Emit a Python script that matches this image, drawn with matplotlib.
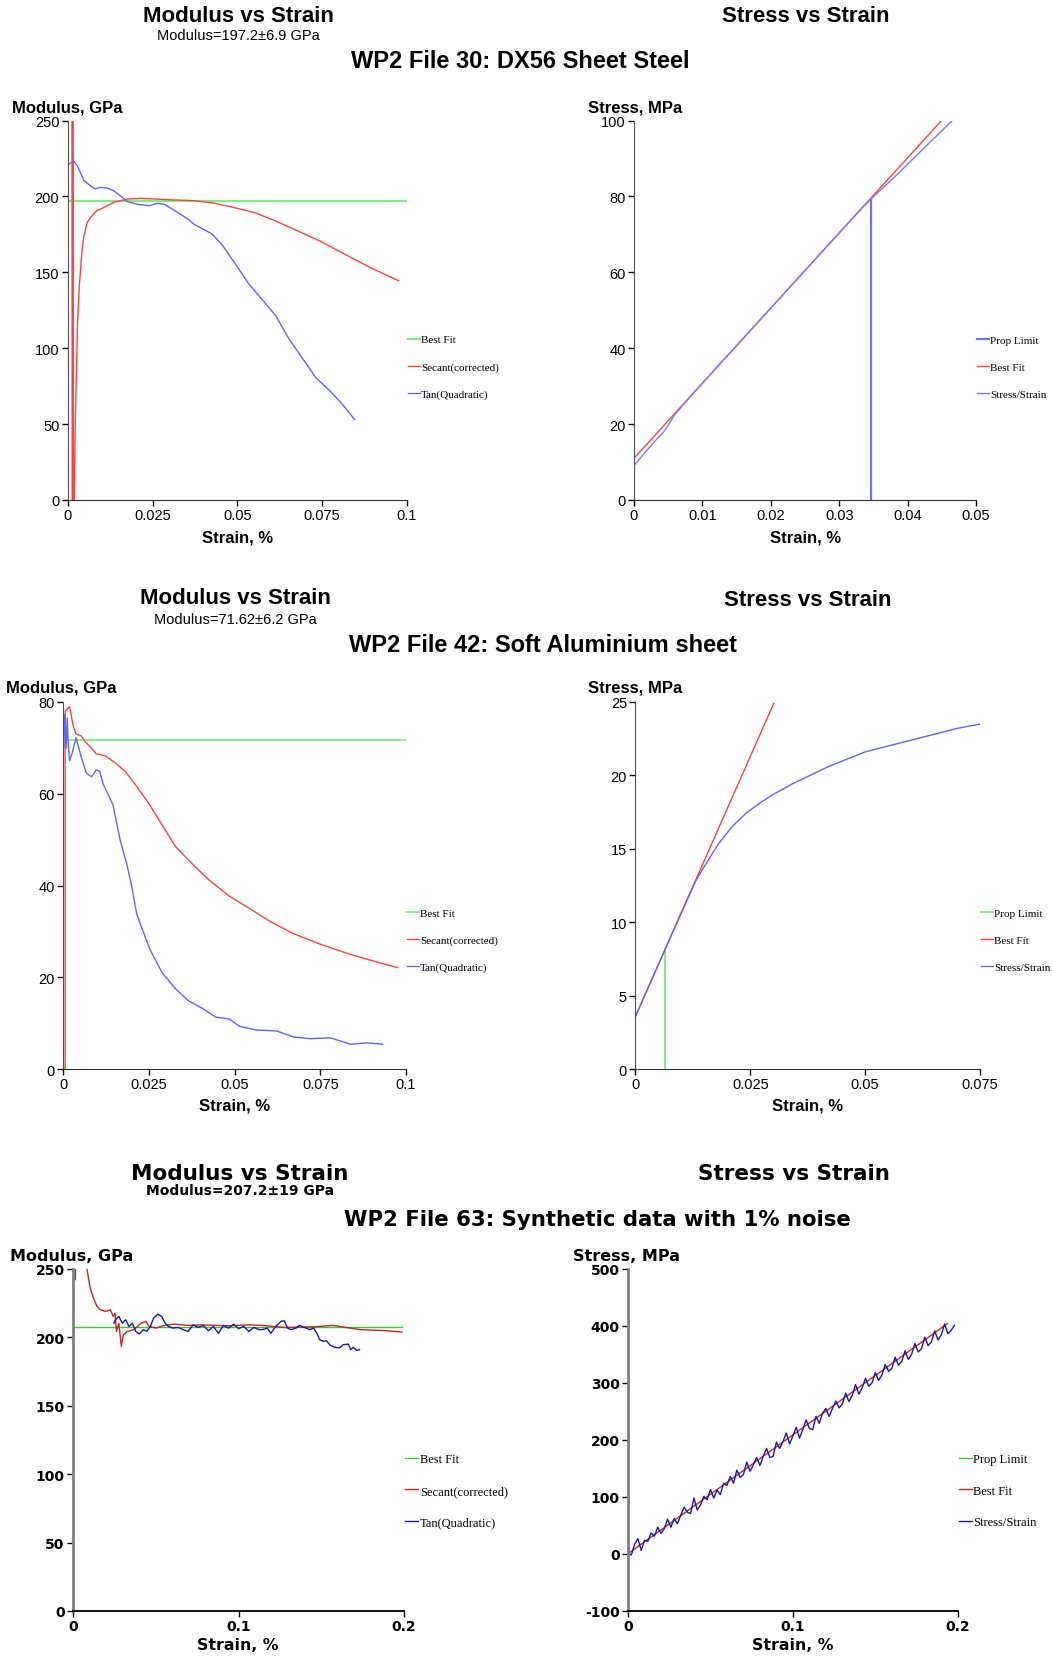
import matplotlib
matplotlib.use("Agg")
import matplotlib.pyplot as plt

W, H = 1053, 1658

# ---- File 30: DX56 sheet steel ----
MOD30_BEST = 197.2
SEC30_X = [0.0014, 0.0015, 0.0019, 0.0022, 0.0029, 0.0034, 0.0042, 0.0047, 0.0057, 0.0067,
           0.0086, 0.0106, 0.0136, 0.0176, 0.0216, 0.0295, 0.0374, 0.0434, 0.0494, 0.0553,
           0.0613, 0.0672, 0.0742, 0.0811, 0.0891, 0.0975]
SEC30_Y = [400, 0, 0, 46.3, 116.8, 140.3, 163.8, 173.2, 182.6, 186.1,
           190.8, 192.7, 196.2, 198.3, 198.8, 197.9, 197.2, 195.5, 192.5, 189.2,
           183.8, 177.9, 170.8, 162.6, 153.2, 144.5]
TAN30_X = [0.0, 0.0007, 0.0019, 0.0029, 0.0047, 0.0067, 0.0081, 0.0096, 0.0116, 0.0136,
           0.0156, 0.0176, 0.0206, 0.024, 0.0265, 0.0285, 0.0315, 0.0355, 0.0374, 0.0404,
           0.0424, 0.0454, 0.0494, 0.0533, 0.0573, 0.0613, 0.0652, 0.0692, 0.0732, 0.0772,
           0.0811, 0.0846]
TAN30_Y = [220.2, 222, 223, 220, 210.8, 207, 205, 206, 205.6, 203.7,
           200.2, 196.7, 194.8, 193.9, 195.5, 194.8, 190.8, 185, 181.4, 177.9,
           175.5, 168.5, 155.6, 142.6, 132.1, 121.5, 106.2, 93.3, 80.4, 72.1,
           62.7, 52.9]
SS30_X = [0.0, 0.0015, 0.003, 0.0045, 0.006, 0.0089, 0.0138, 0.0187, 0.0236, 0.0285,
          0.0334, 0.0348, 0.0383, 0.0431, 0.0467]
SS30_Y = [9.1, 12.3, 15.4, 18.3, 22.6, 28.6, 38.3, 48.0, 57.7, 67.4,
          77.1, 79.6, 85.5, 94.0, 100.3]
FIT30_X = [0.0, 0.0451]
FIT30_Y = [11.0, 100.3]
PROP30_X = [0.0346, 0.0346]
PROP30_Y = [0.0, 79.0]

# ---- File 42: soft aluminium sheet ----
MOD42_BEST = 71.62
SEC42_X = [0.0005, 0.0005, 0.0018, 0.0028, 0.0037, 0.0052, 0.0062, 0.0077, 0.0096, 0.0121,
           0.015, 0.018, 0.0209, 0.0249, 0.0288, 0.0327, 0.0376, 0.0425, 0.0484, 0.0543,
           0.0602, 0.0671, 0.075, 0.0828, 0.0897, 0.0975]
SEC42_Y = [0, 78, 79, 75, 73, 72.6, 71.5, 70.3, 68.7, 68.3,
           66.8, 64.9, 62.1, 57.9, 53.2, 48.5, 44.7, 41.2, 37.7, 35,
           32.2, 29.5, 27.2, 25.2, 23.7, 22.1]
TAN42_X = [0.0001, 0.0004, 0.0008, 0.0011, 0.0014, 0.0018, 0.0025, 0.0037, 0.0052, 0.0067,
           0.0082, 0.0096, 0.0106, 0.0116, 0.0131, 0.0145, 0.0165, 0.0185, 0.0199, 0.0214,
           0.0229, 0.0253, 0.0288, 0.0327, 0.0366, 0.0406, 0.0445, 0.0484, 0.0514, 0.0563,
           0.0622, 0.0671, 0.072, 0.0779, 0.0838, 0.0887, 0.0931]
TAN42_Y = [70.3, 77.3, 69.9, 76.5, 71, 67.2, 68.7, 72.2, 68, 64.5,
           63.7, 65.2, 64.9, 62.1, 59.8, 57.5, 50.1, 44.7, 40, 33.8,
           30.7, 26, 21, 17.5, 14.8, 13.2, 11.3, 10.9, 9.3, 8.5,
           8.3, 7, 6.6, 6.8, 5.4, 5.7, 5.4]
SS42_X = [0.0, 0.0029, 0.0064, 0.0095, 0.0131, 0.015, 0.018, 0.021, 0.024, 0.027,
          0.030, 0.034, 0.038, 0.042, 0.046, 0.050, 0.055, 0.060, 0.065, 0.070, 0.075]
SS42_Y = [3.57, 5.63, 8.1, 10.3, 12.8, 13.8, 15.3, 16.5, 17.4, 18.1,
          18.7, 19.4, 20.0, 20.6, 21.1, 21.6, 22.0, 22.4, 22.8, 23.2, 23.5]
FIT42_X = [0.0, 0.0301]
FIT42_Y = [3.57, 24.9]
PROP42_X = [0.0064, 0.0064]
PROP42_Y = [0.0, 8.0]

# ---- File 63: synthetic data, 1% noise ----
MOD63_BEST = 207.2
SEC63_X = [0.0014, 0.0016, 0.0030, 0.0084, 0.0104, 0.0124, 0.0145, 0.0165, 0.0196, 0.0226,
           0.0243, 0.0253, 0.0263, 0.0277, 0.0292, 0.0304, 0.0328, 0.0369, 0.041, 0.044,
           0.0461, 0.0502, 0.0552, 0.0613, 0.0695, 0.0777, 0.0858, 0.094, 0.1062, 0.1144,
           0.1284, 0.149, 0.1572, 0.1674, 0.1735, 0.1896, 0.1988]
SEC63_Y = [242, 255, 262, 250.2, 235.7, 228.4, 222.4, 220, 218.8, 220,
           215.1, 217.5, 204.2, 210.2, 193.3, 201.8, 204.2, 205.5, 210.2, 211.5,
           207.8, 206.6, 208.6, 209.5, 208.6, 209, 208.6, 208.3, 209, 208.6,
           207, 207.8, 208.6, 206.6, 205.5, 204.7, 203.7]
TAN63_X = [0.0247, 0.0257, 0.0277, 0.0298, 0.0318, 0.0338, 0.0359, 0.0379, 0.04, 0.0426,
           0.0446, 0.0467, 0.0487, 0.0512, 0.0536, 0.0557, 0.0577, 0.0604, 0.0634, 0.0665,
           0.0695, 0.0726, 0.0757, 0.0787, 0.0818, 0.0848, 0.0879, 0.0909, 0.094, 0.0971,
           0.1001, 0.1032, 0.1062, 0.1093, 0.1124, 0.1144, 0.1174, 0.1195, 0.1225, 0.1256,
           0.1276, 0.1297, 0.1317, 0.1347, 0.1368, 0.1399, 0.1429, 0.1454, 0.1474, 0.149,
           0.1511, 0.1531, 0.1555, 0.1582, 0.1609, 0.1633, 0.1664, 0.1678, 0.1694, 0.1714,
           0.1731]
TAN63_Y = [210.2, 212.7, 215.1, 210.2, 212.7, 207.8, 210.2, 204.2, 202.3, 205.5,
           204.2, 207.8, 213.9, 216.8, 215.1, 210.2, 207.8, 206.6, 207.1, 205.5,
           204.2, 209, 207.1, 208.6, 204.7, 207.8, 202.8, 208.6, 206.6, 209.5,
           206.2, 207.8, 204.2, 207.1, 205.5, 205.5, 206.6, 202.8, 207.8, 211.5,
           212, 206.6, 205.5, 206.6, 208.6, 207.1, 205.5, 206.6, 202.8, 198.2,
           197, 197.4, 194, 192.6, 192.1, 194.5, 194.9, 190.9, 192.6, 190.2,
           190.9]
SS63_X = [0.000, 0.002, 0.004, 0.006, 0.008, 0.010, 0.012, 0.014, 0.016, 0.018,
          0.020, 0.022, 0.024, 0.026, 0.028, 0.030, 0.032, 0.034, 0.036, 0.038,
          0.040, 0.042, 0.044, 0.046, 0.048, 0.050, 0.052, 0.054, 0.056, 0.058,
          0.060, 0.062, 0.064, 0.066, 0.068, 0.070, 0.072, 0.074, 0.076, 0.078,
          0.080, 0.082, 0.084, 0.086, 0.088, 0.090, 0.092, 0.094, 0.096, 0.098,
          0.100, 0.102, 0.104, 0.106, 0.108, 0.110, 0.112, 0.114, 0.116, 0.118,
          0.120, 0.122, 0.124, 0.126, 0.128, 0.130, 0.132, 0.134, 0.136, 0.138,
          0.140, 0.142, 0.144, 0.146, 0.148, 0.150, 0.152, 0.154, 0.156, 0.158,
          0.160, 0.162, 0.164, 0.166, 0.168, 0.170, 0.172, 0.174, 0.176, 0.178,
          0.180, 0.182, 0.184, 0.186, 0.188, 0.190, 0.192, 0.194, 0.196, 0.198]
SS63_Y = [2, -2, 17, 27, 6, 24, 22, 37, 31, 47,
          36, 44, 61, 47, 62, 53, 68, 82, 73, 71,
          98, 77, 86, 101, 95, 113, 98, 112, 104, 124,
          120, 136, 124, 147, 134, 139, 161, 145, 156, 169,
          155, 171, 185, 169, 171, 196, 185, 197, 212, 193,
          207, 222, 203, 218, 235, 220, 218, 241, 229, 247,
          255, 241, 255, 268, 256, 263, 282, 267, 278, 297,
          280, 291, 308, 294, 300, 318, 304, 314, 332, 320,
          325, 345, 331, 337, 356, 341, 350, 369, 354, 360,
          380, 365, 372, 391, 375, 384, 403, 386, 392, 401]
FIT63_X = [0.0, 0.1936]
FIT63_Y = [0.5, 403.6]

# colours
RED, BLUE, GREEN = "#ff4040", "#6262ff", "#7cf07c"
RED3, BLUE3, GREEN3 = "#cc2222", "#1818b0", "#33cc33"

fig = plt.figure(figsize=(W / 100, H / 100), dpi=100)


def px_axes(l, t, r, b):
    return fig.add_axes([l / W, 1 - b / H, (r - l) / W, (b - t) / H])


def ftext(x, y, s, **kw):
    fig.text(x / W, 1 - y / H, s, **kw)


def style(ax, xt, xl, yt, yl, fam, tsize, bold, row3=False):
    ax.set_xlim(xt[0], xt[-1])
    ax.set_ylim(yt[0], yt[-1])
    for s in ("top", "right"):
        ax.spines[s].set_visible(False)
    if row3:
        ax.spines["left"].set_color("#808080")
        ax.spines["left"].set_linewidth(2.0)
        ax.spines["bottom"].set_color("black")
        ax.spines["bottom"].set_linewidth(1.3)
    else:
        ax.spines["left"].set_color("#505050")
        ax.spines["bottom"].set_color("#303030")
    ax.set_xticks(xt, xl)
    ax.set_yticks(yt, yl)
    ax.tick_params(direction="out", length=4, width=1, pad=2, colors="black")
    for lab in ax.get_xticklabels() + ax.get_yticklabels():
        lab.set_fontfamily(fam)
        lab.set_fontsize(tsize)
        lab.set_fontweight("bold" if bold else "normal")


def legend(ax, size):
    ax.legend(loc="center left", bbox_to_anchor=(1.004, 0.351), frameon=False,
              prop={"family": "Liberation Serif", "size": size},
              handlelength=1.05, handletextpad=0.1, labelspacing=1.55,
              borderpad=0, borderaxespad=0)


SANS = "Liberation Sans"
DV = "DejaVu Sans"
X01 = [0, 0.025, 0.05, 0.075, 0.1]
X01L = ["0", "0.025", "0.05", "0.075", "0.1"]

# ---------------- row 1 ----------------
ax1 = px_axes(67.7, 121.6, 407, 501)
ax1.plot([0, 0.1], [MOD30_BEST, MOD30_BEST], color=GREEN, lw=1.6, label="Best Fit")
ax1.plot(SEC30_X, SEC30_Y, color=RED, lw=1.0, label="Secant(corrected)")
ax1.plot(TAN30_X, TAN30_Y, color=BLUE, lw=1.0, label="Tan(Quadratic)")
ax1.plot([SEC30_X[0], SEC30_X[1]], [SEC30_Y[0], SEC30_Y[1]], color=RED, lw=1.8)
style(ax1, X01, X01L, [0, 50, 100, 150, 200, 250], ["0", "50", "100", "150", "200", "250"],
      SANS, 10.5, False)
legend(ax1, 8)

ax2 = px_axes(634, 121.6, 976, 501)
ax2.plot(PROP30_X, PROP30_Y, color="#7272ff", lw=1.6, label="Prop Limit")
ax2.plot(FIT30_X, FIT30_Y, color=RED, lw=1.0, label="Best Fit")
ax2.plot(SS30_X, SS30_Y, color="#7a7aff", lw=1.0, label="Stress/Strain")
style(ax2, [0, 0.01, 0.02, 0.03, 0.04, 0.05], ["0", "0.01", "0.02", "0.03", "0.04", "0.05"],
      [0, 20, 40, 60, 80, 100], ["0", "20", "40", "60", "80", "100"], SANS, 10.5, False)
legend(ax2, 8)

ftext(238, 16, "Modulus vs Strain", family=SANS, weight="bold", size=16, ha="center", va="center")
ftext(238, 36, "Modulus=197.2\u00b16.9 GPa", family=SANS, size=10.5, ha="center", va="center")
ftext(806, 16, "Stress vs Strain", family=SANS, weight="bold", size=16, ha="center", va="center")
ftext(520, 61, "WP2 File 30: DX56 Sheet Steel", family=SANS, weight="bold", size=17,
      ha="center", va="center")
ftext(11.6, 108, "Modulus, GPa", family=SANS, weight="bold", size=12, ha="left", va="center")
ftext(588, 108, "Stress, MPa", family=SANS, weight="bold", size=12, ha="left", va="center")
ftext(238, 538, "Strain, %", family=SANS, weight="bold", size=12, ha="center", va="center")
ftext(806, 538, "Strain, %", family=SANS, weight="bold", size=12, ha="center", va="center")

# ---------------- row 2 ----------------
ax3 = px_axes(63.4, 703, 406, 1070)
ax3.plot([0.0008, 0.1], [MOD42_BEST, MOD42_BEST], color=GREEN, lw=1.3, label="Best Fit")
ax3.plot(SEC42_X, SEC42_Y, color=RED, lw=1.0, label="Secant(corrected)")
ax3.plot(TAN42_X, TAN42_Y, color=BLUE, lw=1.0, label="Tan(Quadratic)")
style(ax3, X01, X01L, [0, 20, 40, 60, 80], ["0", "20", "40", "60", "80"], SANS, 10.5, False)
legend(ax3, 8)

ax4 = px_axes(635.4, 703, 980, 1070)
ax4.plot(PROP42_X, PROP42_Y, color=GREEN, lw=1.4, label="Prop Limit")
ax4.plot(FIT42_X, FIT42_Y, color=RED, lw=1.0, label="Best Fit")
ax4.plot(SS42_X, SS42_Y, color=BLUE, lw=1.0, label="Stress/Strain")
style(ax4, [0, 0.025, 0.05, 0.075], ["0", "0.025", "0.05", "0.075"],
      [0, 5, 10, 15, 20, 25], ["0", "5", "10", "15", "20", "25"], SANS, 10.5, False)
legend(ax4, 8)

ftext(235, 599, "Modulus vs Strain", family=SANS, weight="bold", size=16, ha="center", va="center")
ftext(235, 619.5, "Modulus=71.62\u00b16.2 GPa", family=SANS, size=10.5, ha="center", va="center")
ftext(808, 600, "Stress vs Strain", family=SANS, weight="bold", size=16, ha="center", va="center")
ftext(543, 646, "WP2 File 42: Soft Aluminium sheet", family=SANS, weight="bold", size=17,
      ha="center", va="center")
ftext(6.3, 688, "Modulus, GPa", family=SANS, weight="bold", size=12, ha="left", va="center")
ftext(588, 688, "Stress, MPa", family=SANS, weight="bold", size=12, ha="left", va="center")
ftext(235, 1106, "Strain, %", family=SANS, weight="bold", size=12, ha="center", va="center")
ftext(808, 1106, "Strain, %", family=SANS, weight="bold", size=12, ha="center", va="center")

# ---------------- row 3 ----------------
ax5 = px_axes(73, 1269.7, 404, 1612)
ax5.plot([0, 0.1985], [MOD63_BEST, MOD63_BEST], color=GREEN3, lw=1.0, label="Best Fit")
ax5.plot(SEC63_X, SEC63_Y, color=RED3, lw=1.0, label="Secant(corrected)")
ax5.plot(TAN63_X, TAN63_Y, color=BLUE3, lw=1.0, label="Tan(Quadratic)")
style(ax5, [0, 0.1, 0.2], ["0", "0.1", "0.2"], [0, 50, 100, 150, 200, 250],
      ["0", "50", "100", "150", "200", "250"], DV, 10, True, row3=True)
legend(ax5, 9)

ax6 = px_axes(628, 1269.7, 957.8, 1612)
ax6.plot([], [], color=GREEN3, lw=1.0, label="Prop Limit")
ax6.plot(FIT63_X, FIT63_Y, color=RED3, lw=1.0, label="Best Fit")
ax6.plot(SS63_X, SS63_Y, color=BLUE3, lw=1.0, label="Stress/Strain")
style(ax6, [0, 0.1, 0.2], ["0", "0.1", "0.2"], [-100, 0, 100, 200, 300, 400, 500],
      ["-100", "0", "100", "200", "300", "400", "500"], DV, 10, True, row3=True)
legend(ax6, 9)

ftext(240, 1173.5, "Modulus vs Strain", family=DV, weight="bold", size=15.5, ha="center", va="center")
ftext(240, 1191.5, "Modulus=207.2\u00b119 GPa", family=DV, weight="bold", size=10, ha="center",
      va="center")
ftext(794, 1173.5, "Stress vs Strain", family=DV, weight="bold", size=15.5, ha="center", va="center")
ftext(597, 1220, "WP2 File 63: Synthetic data with 1% noise", family=DV, weight="bold", size=15.3,
      ha="center", va="center")
ftext(9.5, 1257, "Modulus, GPa", family=DV, weight="bold", size=11.5, ha="left", va="center")
ftext(573, 1257, "Stress, MPa", family=DV, weight="bold", size=11.5, ha="left", va="center")
ftext(238, 1646, "Strain, %", family=DV, weight="bold", size=11.3, ha="center", va="center")
ftext(793, 1646, "Strain, %", family=DV, weight="bold", size=11.3, ha="center", va="center")

fig.savefig("out.png", dpi=100)
